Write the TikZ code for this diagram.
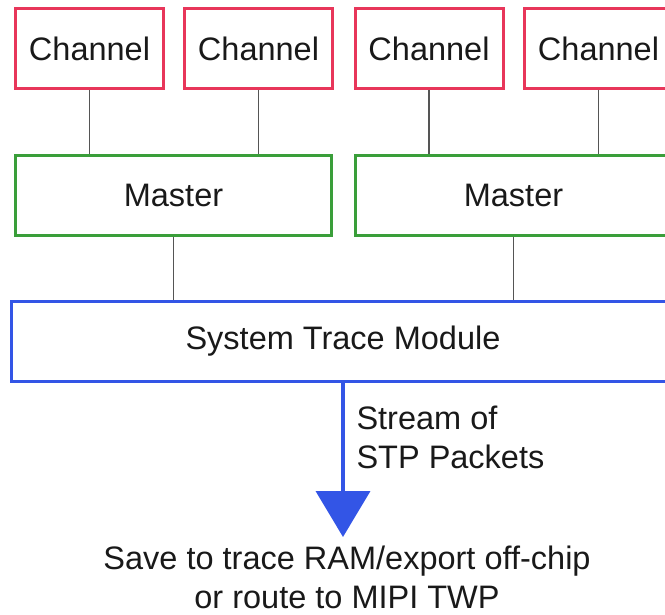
\documentclass[tikz,border=0pt]{standalone}
\usepackage{fontspec}
\setmainfont{Liberation Sans}
\usetikzlibrary{arrows.meta}
\definecolor{chanred}{HTML}{E8365A}
\definecolor{mastgreen}{HTML}{3A9E3A}
\definecolor{stmblue}{HTML}{3355E6}
\definecolor{linkgray}{HTML}{555555}
\tikzset{
    chanbox/.style={draw=chanred, line width=3pt, minimum width=148pt, minimum height=80pt, inner sep=0pt},
    mastbox/.style={draw=mastgreen, line width=3pt, minimum width=316pt, minimum height=80pt, inner sep=0pt},
    stmbox/.style={draw=stmblue, line width=3pt, minimum width=664pt, minimum height=80pt, inner sep=0pt},
    link/.style={draw=linkgray, line width=1.4pt}
}
\begin{document}
\begin{tikzpicture}[x=1pt, y=-1pt, font=\fontsize{32.5}{39}\selectfont, text=black!90]
    \useasboundingbox (0,0) rectangle (665,615);
    \clip (0,0) rectangle (665,615);

    \node[chanbox] (c1) at (89.5,48.5) {Channel};
    \node[chanbox] (c2) at (258.5,48.5) {Channel};
    \node[chanbox] (c3) at (429,48.5) {Channel};
    \node[chanbox] (c4) at (598.5,48.5) {Channel};

    \node[mastbox] (m1) at (173.5,195.5) {Master};
    \node[mastbox] (m2) at (513.5,195.5) {Master};

    \node[stmbox] (stm) at (343,341.5) {System Trace Module};

    \draw[link] (c1.south) to (c1.south |- m1.north);
    \draw[link] (c2.south) to (c2.south |- m1.north);
    \draw[link] (c3.south) to (c3.south |- m2.north);
    \draw[link] (c4.south) to (c4.south |- m2.north);

    \draw[link] (m1.south) to (m1.south |- stm.north);
    \draw[link] (m2.south) to (m2.south |- stm.north);

    % output stream
    \coordinate (tip) at (343,537);
    \draw[stmblue, line width=4pt, -{Triangle[length=46pt,width=54pt]}] (stm.south) to (tip);
    \node[anchor=west, align=left] (stream) at (353,437) {Stream of\\STP Packets};

    \node[align=center] (dest) at (347,577) {Save to trace RAM/export off-chip\\or route to MIPI TWP};
\end{tikzpicture}
\end{document}
